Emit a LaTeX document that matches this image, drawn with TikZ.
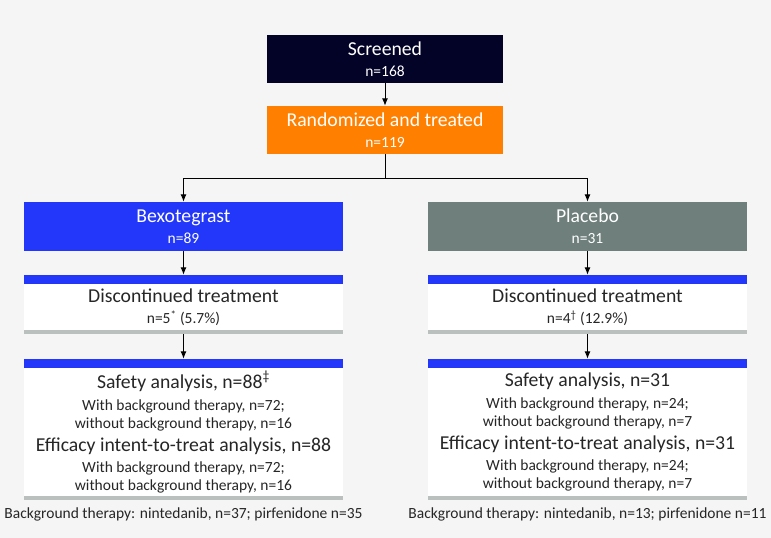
\documentclass[tikz,border=0pt]{standalone}
\usepackage{fontspec}
\setmainfont{Carlito}
\usetikzlibrary{arrows.meta}

\definecolor{navy}{RGB}{3,3,40}
\definecolor{randorange}{RGB}{255,128,0}
\definecolor{armblue}{RGB}{35,55,250}
\definecolor{armgray}{RGB}{110,127,124}
\definecolor{bargray}{RGB}{185,192,190}
\definecolor{bggray}{RGB}{245,245,245}

\newcommand{\bigline}{\fontsize{19.7}{21}\selectfont}

\begin{document}
\begin{tikzpicture}[x=1pt,y=-1pt,
  box/.style={rectangle, inner sep=0pt, align=center, text=white,
    font=\fontsize{15.5}{21}\selectfont},
  topbox/.style={box, minimum width=236pt, minimum height=48pt},
  armbox/.style={box, minimum width=319pt, minimum height=49pt},
  resbox/.style={box, fill=white, text=black!85, minimum width=319pt},
  note/.style={font=\fontsize{15.5}{18}\selectfont, text=black!85},
  arr/.style={-{Latex[length=7.5pt,width=6pt]}, line width=1pt}]

\fill [bggray] (0,0) rectangle (771,538);
\useasboundingbox (0,0) rectangle (771,538);

\node [topbox, fill=navy] (screen) at (385,59) {{\bigline Screened}\\n=168};
\node [topbox, fill=randorange] (rand) at (385,130) {{\bigline Randomized and treated}\\n=119};

\node [armbox, fill=armblue] (bexo) at (183.5,226.5) {{\bigline Bexotegrast}\\n=89};
\node [armbox, fill=armgray] (plac) at (587.5,226.5) {{\bigline Placebo}\\n=31};

\node [resbox, minimum height=46pt] (discB) at (183.5,307)
  {{\bigline Discontinued treatment}\\n=5\textsuperscript{*} (5.7\%)};
\node [resbox, minimum height=46pt] (discP) at (587.5,307)
  {{\bigline Discontinued treatment}\\n=4\textsuperscript{\textdagger} (12.9\%)};

\foreach \arm/\x/\n/\w/\wo/\sup in
  {B/183.5/88/72/16/\textsuperscript{\textdaggerdbl},
   P/587.5/31/24/7/{}}
  \node [resbox, minimum height=128pt, font=\fontsize{15.5}{18}\selectfont]
    (safe\arm) at (\x,432)
    {{\bigline Safety analysis, n=\n\sup}\\[4pt]
     With background therapy, n=\w;\\
     without background therapy, n=\wo\\[5pt]
     {\bigline Efficacy intent-to-treat analysis, n=\n}\\[3pt]
     With background therapy, n=\w;\\
     without background therapy, n=\wo};

\node [note] (noteB) at (183.5,514) {Background therapy: nintedanib, n=37; pirfenidone n=35};
\node [note] (noteP) at (587.5,514) {Background therapy: nintedanib, n=13; pirfenidone n=11};

% coloured bars on top and bottom of the white boxes
\foreach \b in {discB,discP,safeB,safeP}{
  \fill [armblue] ([yshift=9pt]\b.north west) rectangle (\b.north east);
  \fill [bargray] (\b.south west) rectangle ([yshift=-4pt]\b.south east);
}

\coordinate (split) at (385,178);
\draw [arr] (screen) -- (rand);
\draw [line width=1pt] (rand) -- (split);
\draw [arr] (split) -| (bexo);
\draw [arr] (split) -| (plac);

\foreach \arm/\top in {B/bexo,P/plac}{
  \draw [arr] (\top) -- ([yshift=9pt]disc\arm.north);
  \draw [arr] ([yshift=-4pt]disc\arm.south) -- ([yshift=9pt]safe\arm.north);
}

\end{tikzpicture}
\end{document}
